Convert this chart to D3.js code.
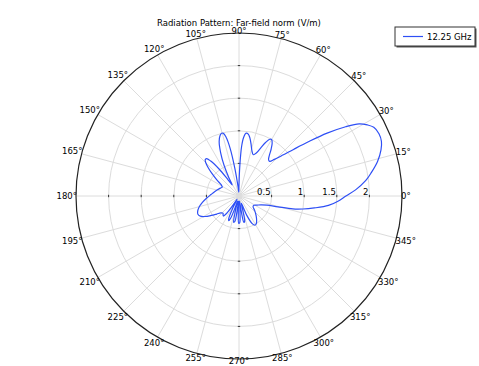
<!DOCTYPE html>
<html>
<head>
<meta charset="utf-8">
<script src="https://cdn.jsdelivr.net/npm/d3@7"></script>
<style>
body { margin: 0; background: #fff; }
text { font-family: "DejaVu Sans", sans-serif; font-size: 8.5px; fill: #000; }
</style>
</head>
<body>
<script>
// far-field norm (V/m) against angle (deg)
let angles = [0, 3, 7, 10, 14, 18, 21, 24, 27, 29, 31, 33, 35.5, 38, 40.5, 43, 46, 48.5, 51, 53,
	55.5, 58, 60, 61.5, 63.5, 65.5, 68, 71, 74, 77, 79.5, 81.5, 83.5, 85.5, 87, 88.5, 90.5, 93, 96, 98.5,
	100.5, 102.5, 104, 105.5, 107.5, 110, 113, 116, 119, 121.5, 124, 126.5, 129, 131, 133, 135, 137.5, 140, 144, 148,
	152, 157, 163, 170, 177, 184, 190, 196, 201, 204, 207.5, 211, 215, 219, 223, 227, 230, 232, 234.5, 237,
	240, 243, 245.5, 247.5, 249.5, 252, 254, 256.5, 258.5, 260.5, 263, 265, 267.5, 269.5, 271.5, 274, 276, 278.5, 280.5, 282.5,
	285, 288, 292, 295.5, 298.5, 302, 306, 311, 317, 323, 328, 333, 338, 342, 344.5, 346.5, 348.5, 351, 354, 357];
let norm = [1.64, 1.79, 1.96, 2.06, 2.19, 2.29, 2.34, 2.35, 2.32, 2.25, 2.15, 1.95, 1.66, 1.35, 1.10, 0.92, 0.78, 0.71, 0.72, 0.77,
	0.87, 0.96, 1.00, 0.99, 0.92, 0.82, 0.71, 0.67, 0.72, 0.82, 0.91, 0.96, 0.97, 0.90, 0.76, 0.45, 0.15, 0.06, 0.15, 0.42,
	0.74, 0.93, 0.99, 1.00, 0.97, 0.89, 0.72, 0.52, 0.32, 0.20, 0.30, 0.52, 0.69, 0.76, 0.76, 0.72, 0.64, 0.55, 0.42, 0.32,
	0.29, 0.31, 0.34, 0.38, 0.43, 0.50, 0.57, 0.64, 0.68, 0.69, 0.67, 0.61, 0.52, 0.44, 0.38, 0.36, 0.38, 0.39, 0.33, 0.15,
	0.06, 0.22, 0.38, 0.41, 0.36, 0.16, 0.08, 0.25, 0.41, 0.40, 0.2, 0.08, 0.25, 0.42, 0.41, 0.2, 0.08, 0.25, 0.41, 0.40,
	0.22, 0.12, 0.32, 0.47, 0.51, 0.50, 0.46, 0.40, 0.33, 0.27, 0.27, 0.31, 0.36, 0.45, 0.62, 0.85, 1.00, 1.17, 1.38, 1.52];
let rTicks = [0.5, 1, 1.5, 2];
let angleTicks = d3.range(0, 360, 15);
let title = "Radiation Pattern: Far-field norm (V/m)";
let seriesName = "12.25 GHz";

let W = 479, H = 366, cx = 239, cy = 196, R = 163;
let r = d3.scaleLinear().domain([0, 2.5]).range([0, R]);
let rad = function(deg) { return (90 - deg) * Math.PI / 180; }; // d3 angle: 0 = up, clockwise

let svg = d3.select("body").append("svg").attr("width", W).attr("height", H);
let g = svg.append("g").attr("transform", "translate(" + cx + "," + cy + ")");

// grid
g.selectAll("line.spoke").data(angleTicks).enter().append("line")
	.attr("class", "spoke")
	.attr("x1", 0).attr("y1", 0)
	.attr("x2", d => R * Math.cos(d * Math.PI / 180))
	.attr("y2", d => -R * Math.sin(d * Math.PI / 180))
	.attr("stroke", "#dcdcdc").attr("stroke-width", 1);
g.selectAll("circle.ring").data(rTicks).enter().append("circle")
	.attr("class", "ring")
	.attr("r", d => r(d))
	.attr("fill", "none").attr("stroke", "#dcdcdc").attr("stroke-width", 1);

// small tick marks on the four axes
[0, 90, 180, 270].forEach(function(a) {
	let ca = Math.cos(a * Math.PI / 180), sa = -Math.sin(a * Math.PI / 180);
	g.selectAll(null).data(rTicks).enter().append("line")
		.attr("x1", d => r(d) * ca - 1.2 * sa).attr("y1", d => r(d) * sa + 1.2 * ca)
		.attr("x2", d => r(d) * ca + 1.2 * sa).attr("y2", d => r(d) * sa - 1.2 * ca)
		.attr("stroke", "#333").attr("stroke-width", 1);
});

g.append("circle").attr("r", R).attr("fill", "none").attr("stroke", "#222").attr("stroke-width", 1.2);

// radial labels
g.selectAll("text.rlab").data(rTicks).enter().append("text")
	.attr("class", "rlab")
	.attr("x", d => r(d) - 1).attr("y", -1.5)
	.attr("text-anchor", "end")
	.text(d => d);

// angle labels, pushed out by half the text box in the label's direction
g.selectAll("text.alab").data(angleTicks).enter().append("text")
	.attr("class", "alab")
	.attr("text-anchor", "middle").attr("dy", "0.35em")
	.text(d => d + "°")
	.each(function(d) {
		let w = this.getComputedTextLength();
		let c = Math.cos(d * Math.PI / 180), s = Math.sin(d * Math.PI / 180);
		let off = R - 1 + Math.abs(c) * w / 2 + Math.abs(s) * 3;
		d3.select(this).attr("x", off * c).attr("y", -off * s);
	});

// pattern
let pts = angles.map((a, i) => ({a: a, v: norm[i]}));
let line = d3.lineRadial()
	.angle(d => rad(d.a))
	.radius(d => r(d.v))
	.curve(d3.curveCatmullRomClosed.alpha(0.5));
g.append("path").datum(pts)
	.attr("d", line)
	.attr("fill", "none").attr("stroke", "#2e4ff5").attr("stroke-width", 1.2);

// title
svg.append("text").attr("x", cx).attr("y", 25.5).attr("text-anchor", "middle").text(title);

// legend
let lg = svg.append("g").attr("transform", "translate(395,27)");
lg.append("rect").attr("x", 1.5).attr("y", 1.5).attr("width", 80).attr("height", 19)
	.attr("fill", "#555");
lg.append("rect").attr("x", 0).attr("y", 0).attr("width", 80).attr("height", 19)
	.attr("fill", "#fff").attr("stroke", "#333").attr("stroke-width", 1);
lg.append("line").attr("x1", 8).attr("x2", 28).attr("y1", 9.5).attr("y2", 9.5)
	.attr("stroke", "#2e4ff5").attr("stroke-width", 1.2);
lg.append("text").attr("x", 32).attr("y", 12.5).text(seriesName);
</script>
</body>
</html>
